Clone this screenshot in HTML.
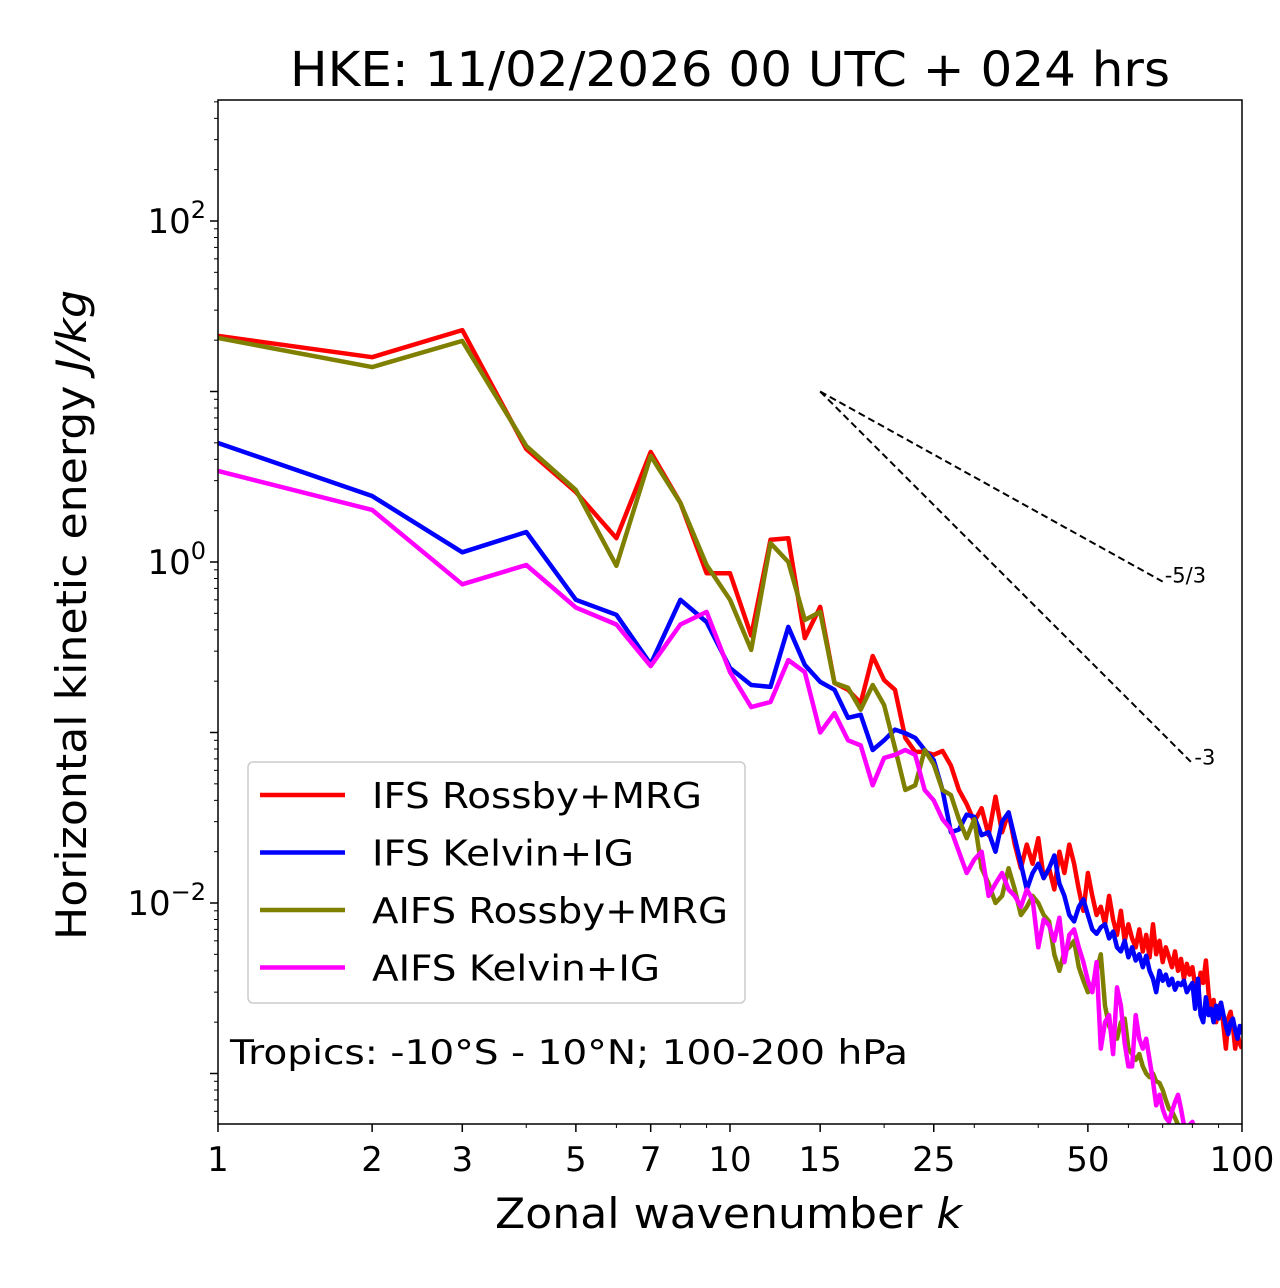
<!DOCTYPE html>
<html><head><meta charset="utf-8"><style>
html,body{margin:0;padding:0;background:#fff;}
svg{display:block;font-family:"DejaVu Sans","Liberation Sans",sans-serif;}
</style></head><body>
<svg id="chart" width="1280" height="1288" viewBox="0 0 1280 1288" xmlns="http://www.w3.org/2000/svg">
<rect x="0" y="0" width="1280" height="1288" fill="#fff"/>
<text x="290" y="86" font-size="48" textLength="880" lengthAdjust="spacingAndGlyphs">HKE: 11/02/2026 00 UTC + 024 hrs</text>
<g id="plot"></g>
<text x="495" y="1228" font-size="42" textLength="467" lengthAdjust="spacingAndGlyphs">Zonal wavenumber <tspan font-style="italic">k</tspan></text>
<text transform="translate(86,940) rotate(-90)" font-size="42" textLength="650" lengthAdjust="spacingAndGlyphs">Horizontal kinetic energy <tspan font-style="italic">J/kg</tspan></text>
</svg>
<script>
const NS="http://www.w3.org/2000/svg";
const ks=[];for(let i=1;i<=100;i++)ks.push(i);
const ifsRossby=[21.2,15.9,22.9,4.6,2.57,1.38,4.42,2.22,0.86,0.86,0.37,1.35,1.38,0.358,0.545,0.195,0.178,0.149,0.281,0.203,0.178,0.093,0.077,0.077,0.074,0.078,0.064,0.046,0.038,0.030,0.036,0.025,0.042,0.026,0.034,0.022,0.016,0.022,0.017,0.024,0.014,0.016,0.012,0.020,0.015,0.022,0.017,0.012,0.009,0.015,0.011,0.0085,0.0095,0.0075,0.011,0.008,0.0065,0.009,0.006,0.0075,0.0062,0.0055,0.007,0.0052,0.0065,0.0048,0.0075,0.005,0.006,0.0045,0.0055,0.0048,0.0042,0.0052,0.004,0.0047,0.0036,0.0044,0.0038,0.0042,0.0033,0.003,0.0039,0.0034,0.0046,0.003,0.0022,0.0027,0.002,0.0024,0.0026,0.0019,0.0014,0.0021,0.0023,0.0019,0.0014,0.0017,0.0015,0.0014];
const ifsKelvin=[4.99,2.44,1.14,1.5,0.6,0.49,0.252,0.6,0.445,0.239,0.19,0.185,0.416,0.249,0.198,0.178,0.122,0.127,0.079,0.09,0.104,0.099,0.093,0.079,0.069,0.046,0.026,0.027,0.033,0.032,0.025,0.026,0.02,0.03,0.034,0.024,0.017,0.012,0.015,0.017,0.014,0.016,0.019,0.013,0.011,0.0085,0.0078,0.0095,0.0105,0.0085,0.007,0.0066,0.0072,0.0075,0.0062,0.0068,0.0055,0.0052,0.006,0.0048,0.0055,0.0046,0.005,0.0042,0.0049,0.004,0.0036,0.003,0.004,0.0035,0.0038,0.0033,0.0036,0.0031,0.0034,0.0033,0.0035,0.003,0.0032,0.0034,0.0024,0.0036,0.0022,0.002,0.0028,0.0022,0.0024,0.002,0.0025,0.0021,0.0026,0.0022,0.0019,0.0017,0.002,0.0021,0.0018,0.0016,0.0019,0.0017];
const aifsRossby=[20.6,13.9,19.8,4.79,2.64,0.95,4.19,2.22,0.96,0.6,0.305,1.29,1.0,0.457,0.51,0.195,0.183,0.136,0.19,0.145,0.081,0.046,0.049,0.079,0.065,0.046,0.043,0.031,0.024,0.031,0.016,0.013,0.01,0.011,0.016,0.012,0.0085,0.0095,0.011,0.01,0.0085,0.0078,0.005,0.004,0.0052,0.0055,0.006,0.0042,0.0035,0.003,0.0032,0.004,0.005,0.0025,0.0019,0.0017,0.0016,0.002,0.0021,0.0014,0.0013,0.0012,0.0013,0.0011,0.001,0.00095,0.001,0.0009,0.00088,0.0008,0.0007,0.00062,0.0006,0.00055,0.0005,0.00046,0.00042,0.0004,0.00038,0.00035,0.00033,0.0003,0.00029,0.00027,0.00026,0.00024,0.00023,0.00022,0.0002,0.00019,0.00018,0.00017,0.00016,0.00015,0.00014,0.00014,0.00013,0.00012,0.00012,0.00011];
const aifsKelvin=[3.42,2.02,0.74,0.96,0.54,0.43,0.245,0.43,0.51,0.226,0.141,0.151,0.266,0.226,0.1,0.13,0.09,0.084,0.049,0.071,0.074,0.079,0.074,0.046,0.04,0.031,0.027,0.02,0.015,0.018,0.02,0.011,0.013,0.015,0.012,0.011,0.0095,0.012,0.0105,0.0055,0.008,0.0074,0.006,0.0082,0.0045,0.0065,0.007,0.0055,0.0045,0.0035,0.003,0.0045,0.0014,0.002,0.0022,0.0013,0.0032,0.0025,0.0015,0.0011,0.0011,0.0022,0.0016,0.0014,0.0016,0.0012,0.0009,0.00065,0.00075,0.00062,0.00055,0.00052,0.0006,0.00068,0.00075,0.00062,0.0005,0.00045,0.0005,0.00052,0.00042,0.00038,0.00035,0.00033,0.0003,0.00028,0.00026,0.00025,0.00023,0.00022,0.0002,0.00019,0.00018,0.00017,0.00016,0.00015,0.00014,0.00013,0.00012,0.00012];
const xTickLabels=[1,2,3,5,7,10,15,25,50,100];
const xMinorTicks=[4,6,8,9,20,30,40,60,70,80,90];
const yTickExps=[-2,0,2];
const refStartK=15, refStartE=10, refEnd53=70, refEnd3=80;

const L=218,R=1242,T=100,B=1124;
const X=k=>L+(R-L)*Math.log10(k)/2;
const Y=v=>562-170.5*Math.log10(v);
const plot=document.getElementById('plot');
function mk(tag,attrs,parent){const e=document.createElementNS(NS,tag);for(const a in attrs)e.setAttribute(a,attrs[a]);(parent||plot).appendChild(e);return e;}

const defs=mk('defs',{});
const cp=mk('clipPath',{id:'clip'},defs);
mk('rect',{x:L,y:T,width:R-L,height:B-T},cp);
const g=mk('g',{'clip-path':'url(#clip)'});



const series=[[ifsRossby,'#ff0000','ifs-rossby-line'],[ifsKelvin,'#0000ff','ifs-kelvin-line'],[aifsRossby,'#808000','aifs-rossby-line'],[aifsKelvin,'#ff00ff','aifs-kelvin-line']];
series.forEach(s=>{
  const pts=s[0].map((v,i)=>X(ks[i]).toFixed(1)+','+Y(v).toFixed(1)).join(' ');
  const p=mk('polyline',{points:pts,fill:'none',stroke:s[1],'stroke-width':4.5,'stroke-linejoin':'round'},g);
  
  
});
const r1=mk('line',{x1:X(refStartK),y1:Y(refStartE),x2:X(refEnd53),y2:Y(refStartE*Math.pow(refEnd53/refStartK,-5/3)),stroke:'#000','stroke-width':2,'stroke-dasharray':'7,4'});


const r2=mk('line',{x1:X(refStartK),y1:Y(refStartE),x2:X(refEnd3),y2:Y(refStartE*Math.pow(refEnd3/refStartK,-3)),stroke:'#000','stroke-width':2,'stroke-dasharray':'7,4'});


const t1=mk('text',{x:X(refEnd53)+2,y:Y(refStartE*Math.pow(refEnd53/refStartK,-5/3))+1,'font-size':21});
t1.textContent='-5/3';


const t2=mk('text',{x:X(refEnd3)+2,y:Y(refStartE*Math.pow(refEnd3/refStartK,-3))+1,'font-size':21});
t2.textContent='-3';



const fr=mk('rect',{x:L,y:T,width:R-L,height:B-T,fill:'none',stroke:'#000','stroke-width':1.5});



xTickLabels.forEach(k=>{
  mk('line',{x1:X(k),y1:B,x2:X(k),y2:B+8,stroke:'#000','stroke-width':1.5});
  const t=mk('text',{x:X(k),y:B+47,'font-size':34,'text-anchor':'middle'});
  t.textContent=k;
  
  
});
xMinorTicks.forEach(k=>{mk('line',{x1:X(k),y1:B,x2:X(k),y2:B+4,stroke:'#000','stroke-width':1});});
for(let e=-4;e<=3;e++){
  for(let m=1;m<10;m++){
    const v=m*Math.pow(10,e);const y=Y(v);
    if(y<T-0.5||y>B+0.5)continue;
    mk('line',{x1:L,y1:y,x2:L-(m===1?8:4),y2:y,stroke:'#000','stroke-width':m===1?1.5:1});
  }
}
yTickExps.forEach(e=>{
  const t=mk('text',{x:L-12,y:Y(Math.pow(10,e))+12,'font-size':34,'text-anchor':'end'});
  
  
  t.textContent='10';
  const s=mk('tspan',{dy:-15,'font-size':24},t);s.textContent=e<0?'\u2212'+(-e):String(e);
});

const lg=mk('g',{});


mk('rect',{x:248,y:762,width:497,height:241,rx:5,fill:'#fff','fill-opacity':0.8,stroke:'#ccc','stroke-width':1.5},lg);
const names=['IFS Rossby+MRG','IFS Kelvin+IG','AIFS Rossby+MRG','AIFS Kelvin+IG'];
const nameW=[330,262,356,288];
names.forEach((n,i)=>{
  const y=795+i*57.5;
  mk('line',{x1:260,y1:y,x2:345,y2:y,stroke:series[i][1],'stroke-width':4.5},lg);
  const t=mk('text',{x:372,y:y+13,'font-size':36,textLength:nameW[i],lengthAdjust:'spacingAndGlyphs'},lg);
  t.textContent=n;
  
  
});
const an=mk('text',{x:230,y:1064,'font-size':34,textLength:678,lengthAdjust:'spacingAndGlyphs'});
an.textContent='Tropics: -10\u00B0S - 10\u00B0N; 100-200 hPa';


</script>
</body></html>
